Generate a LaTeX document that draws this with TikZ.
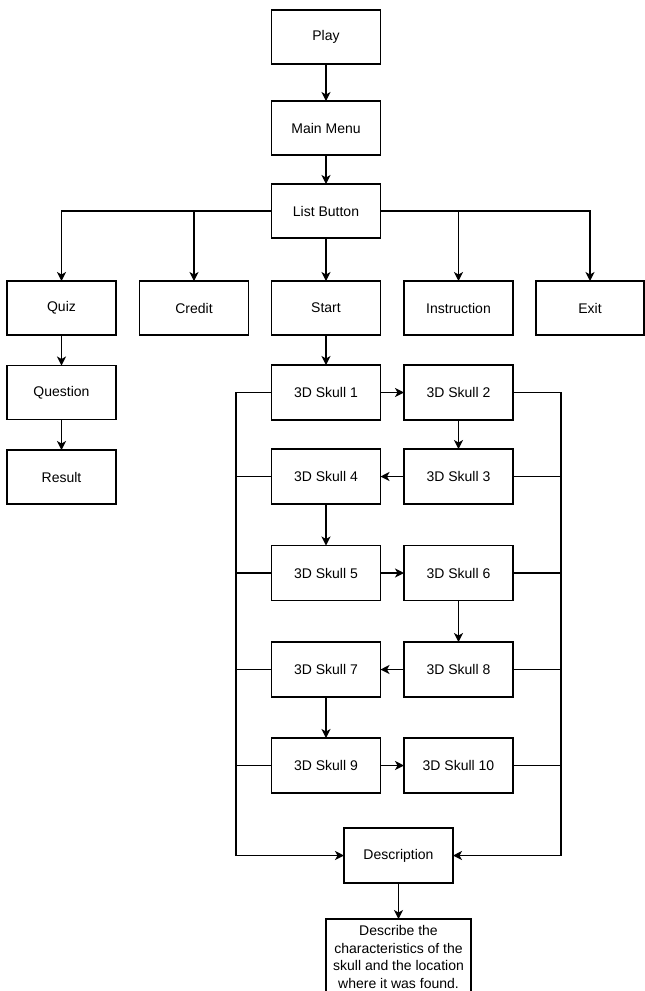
\documentclass[tikz,border=0pt]{standalone}
\usepackage{fontspec}
\setmainfont{Liberation Sans}
\usetikzlibrary{arrows.meta}
\begin{document}
\begin{tikzpicture}[x=1pt,y=-1pt,
  box/.style={draw, line width=1.2pt, minimum width=109pt, minimum height=54pt,
    inner sep=0pt, outer sep=0pt, font=\fontsize{14}{17}\selectfont},
  conn/.style={line width=1.2pt},
  arr/.style={conn, -{Stealth[length=9pt,width=9pt,inset=2.5pt]}}]
\useasboundingbox (0,0) rectangle (645,991);

% top chain
\node[box] (play) at (326,37) {Play};
\node[box] (menu) at (326,128) {Main Menu};
\node[box] (list) at (326,211) {List Button};

% menu options
\node[box] (quiz)   at (61.5,308) {Quiz};
\node[box] (credit) at (194,308) {Credit};
\node[box] (start)  at (326,308) {Start};
\node[box] (instr)  at (458.5,308) {Instruction};
\node[box, minimum width=108pt] (exit) at (590,308) {Exit};

% quiz branch
\node[box] (question) at (61.5,392.5) {Question};
\node[box] (result)   at (61.5,477) {Result};

% skull grid
\node[box, minimum height=55pt] (s1)  at (326,392.5) {3D Skull 1};
\node[box, minimum height=55pt] (s2)  at (458.5,392.5) {3D Skull 2};
\node[box, minimum height=55pt] (s4)  at (326,476.5) {3D Skull 4};
\node[box, minimum height=55pt] (s3)  at (458.5,476.5) {3D Skull 3};
\node[box, minimum height=55pt] (s5)  at (326,573) {3D Skull 5};
\node[box, minimum height=55pt] (s6)  at (458.5,573) {3D Skull 6};
\node[box, minimum height=55pt] (s7)  at (326,669.5) {3D Skull 7};
\node[box, minimum height=55pt] (s8)  at (458.5,669.5) {3D Skull 8};
\node[box, minimum height=55pt] (s9)  at (326,765.5) {3D Skull 9};
\node[box, minimum height=55pt] (s10) at (458.5,765.5) {3D Skull 10};

% description
\node[box, minimum height=55pt] (desc) at (398.5,855.5) {Description};
\node[box, minimum width=145pt, minimum height=76pt, align=center,
  anchor=north, font=\fontsize{14}{17.5}\selectfont] (detail) at (398.5,919)
  {Describe the\\characteristics of the\\skull and the location\\where it was found.};

% top connectors
\draw[arr] (play) -- (menu);
\draw[arr] (menu) -- (list);
\draw[arr] (list.west) -| (quiz.north);
\draw[arr] (list.west) -| (credit.north);
\draw[arr] (list) -- (start);
\draw[arr] (list.east) -| (instr.north);
\draw[arr] (list.east) -| (exit.north);
\draw[arr] (quiz) -- (question);
\draw[arr] (question) -- (result);

% skull sequence
\draw[arr] (start) -- (s1);
\draw[arr] (s1) -- (s2);
\draw[arr] (s2) -- (s3);
\draw[arr] (s3) -- (s4);
\draw[arr] (s4) -- (s5);
\draw[arr] (s5) -- (s6);
\draw[arr] (s6) -- (s8);
\draw[arr] (s8) -- (s7);
\draw[arr] (s7) -- (s9);
\draw[arr] (s9) -- (s10);

% side buses into the description
\coordinate (lbus) at (236,855.5);
\coordinate (rbus) at (561,855.5);
\draw[arr] (s1.west) -| (lbus) -- (desc.west);
\draw[arr] (s2.east) -| (rbus) -- (desc.east);
\foreach \n in {s4,s5,s7,s9} \draw[conn] (\n.west) -- (\n.west -| lbus);
\foreach \n in {s3,s6,s8,s10} \draw[conn] (\n.east) -- (\n.east -| rbus);

\draw[arr] (desc) -- (detail);
\end{tikzpicture}
\end{document}
